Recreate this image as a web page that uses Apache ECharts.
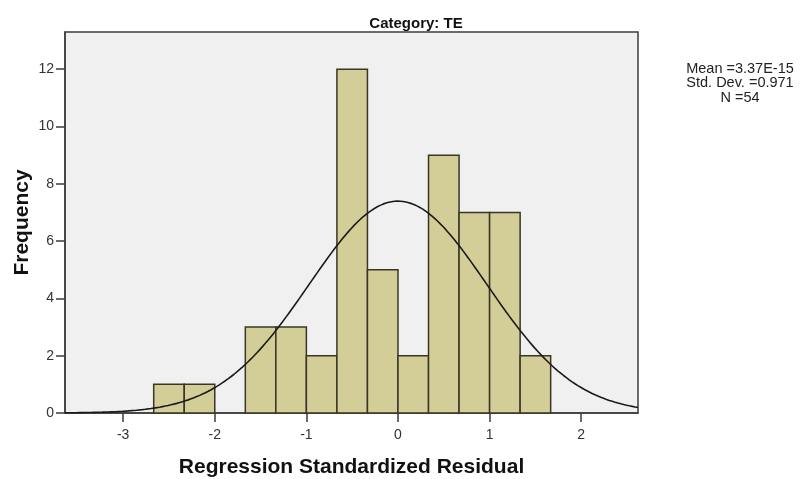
<!DOCTYPE html>
<html>
<head>
<meta charset="utf-8">
<script src="https://cdn.jsdelivr.net/npm/echarts@6/dist/echarts.min.js"></script>
<style>
  html, body { margin: 0; padding: 0; background: #ffffff; }
  #chart { width: 800px; height: 479px; }
</style>
</head>
<body>
<div id="chart"></div>
<script>
// Histogram of standardized residuals (bin width = 1/3)
const binStarts = [-2.6667, -2.3333, -2.0, -1.6667, -1.3333, -1.0, -0.6667, -0.3333, 0.0, 0.3333, 0.6667, 1.0, 1.3333];
const binCounts = [1, 1, 0, 3, 3, 2, 12, 5, 2, 9, 7, 7, 2];
const binWidth = 1 / 3;

// Summary statistics shown beside the plot
const statMean = 3.37e-15;
const statSd = 0.971;
const statN = 54;
const statLines = ['Mean =3.37E-15', 'Std. Dev. =0.971', 'N =54'];

// Axis ticks
const xTicks = [-3, -2, -1, 0, 1, 2];
const yTicks = [0, 2, 4, 6, 8, 10, 12];
const xRange = [-3.635, 2.62];
const yMax = 13.3;

const barData = binStarts.map((s, i) => [s, s + binWidth, binCounts[i]]);

// Fitted normal density scaled to counts per bin
const curveData = [];
const steps = 200;
for (let i = 0; i <= steps; i++) {
  const x = xRange[0] + (xRange[1] - xRange[0]) * i / steps;
  const z = (x - statMean) / statSd;
  const y = statN * binWidth * Math.exp(-0.5 * z * z) / (statSd * Math.sqrt(2 * Math.PI));
  curveData.push([x, y]);
}

const FONT = '"Liberation Sans", Arial, sans-serif';
const chart = echarts.init(document.getElementById('chart'), null, { renderer: 'canvas' });

const option = {
  animation: false,
  backgroundColor: '#ffffff',
  title: {
    text: 'Category: TE',
    left: 411,
    top: 11,
    textAlign: 'center',
    textStyle: { fontFamily: FONT, fontSize: 15, fontWeight: 'bold', color: '#111' }
  },
  graphic: [
    {
      type: 'text',
      left: 680,
      top: 61,
      style: {
        text: statLines.join('\n'),
        width: 120,
        align: 'center',
        x: 60,
        textAlign: 'center',
        font: '14.5px "Liberation Sans", Arial, sans-serif',
        lineHeight: 14.5,
        fill: '#222'
      }
    }
  ],
  grid: {
    left: 65, right: 162, top: 32, bottom: 66,
    containLabel: false,
    outerBoundsMode: 'none',
    show: true,
    backgroundColor: '#f0f0f0',
    borderColor: '#3c3c3c',
    borderWidth: 1.5
  },
  xAxis: {
    type: 'value',
    min: xRange[0],
    max: xRange[1],
    name: 'Regression Standardized Residual',
    nameLocation: 'middle',
    nameGap: 44,
    nameMoveOverlap: false,
    nameTextStyle: { fontFamily: FONT, fontSize: 21, fontWeight: 'bold', color: '#111' },
    axisLine: { show: true, onZero: false, lineStyle: { color: '#3c3c3c', width: 1.5 } },
    axisTick: { show: true, inside: false, length: 9, customValues: xTicks, lineStyle: { color: '#3c3c3c', width: 1.5 } },
    axisLabel: { customValues: xTicks, margin: 15, fontFamily: FONT, fontSize: 14, color: '#333' },
    splitLine: { show: false }
  },
  yAxis: {
    type: 'value',
    min: 0,
    max: yMax,
    name: 'Frequency',
    nameLocation: 'middle',
    nameGap: 32,
    nameMoveOverlap: false,
    nameTextStyle: { fontFamily: FONT, fontSize: 21, fontWeight: 'bold', color: '#111' },
    axisLine: { show: true, onZero: false, lineStyle: { color: '#3c3c3c', width: 1.5 } },
    axisTick: { show: true, inside: false, length: 9, customValues: yTicks, lineStyle: { color: '#3c3c3c', width: 1.5 } },
    axisLabel: { customValues: yTicks, margin: 11, fontFamily: FONT, fontSize: 14, color: '#333' },
    splitLine: { show: false }
  },
  series: [
    {
      type: 'custom',
      data: barData,
      encode: { x: [0, 1], y: 2 },
      renderItem: function (params, api) {
        const count = api.value(2);
        if (!count) return null;
        const p0 = api.coord([api.value(0), count]);
        const p1 = api.coord([api.value(1), 0]);
        return {
          type: 'rect',
          shape: { x: p0[0], y: p0[1], width: p1[0] - p0[0], height: p1[1] - p0[1] },
          style: { fill: '#d3cd97', stroke: '#3a3626', lineWidth: 1.5 }
        };
      },
      z: 2
    },
    {
      type: 'line',
      data: curveData,
      showSymbol: false,
      symbol: 'none',
      smooth: false,
      lineStyle: { color: '#1a1a1a', width: 1.6 },
      z: 3
    }
  ]
};

chart.setOption(option);
</script>
</body>
</html>
